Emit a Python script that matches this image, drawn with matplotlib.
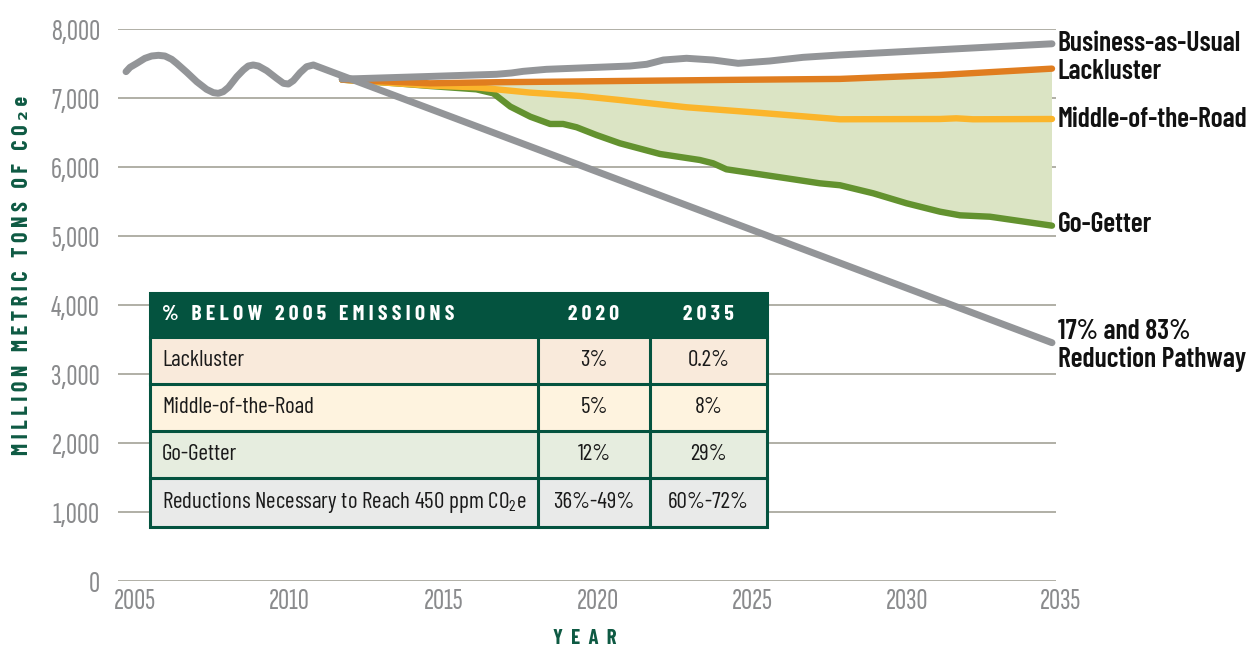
import matplotlib
matplotlib.use("Agg")
import matplotlib.pyplot as plt
from matplotlib import font_manager as fm
from matplotlib.patches import Rectangle
import matplotlib.transforms as mtransforms

# ---------------- data ----------------
hist_years = [2005.00, 2005.13, 2005.35, 2005.61, 2005.83, 2006.05, 2006.26,
              2006.48, 2006.64, 2006.97, 2007.29, 2007.61, 2007.83, 2007.99,
              2008.15, 2008.32, 2008.59, 2008.80, 2008.96, 2009.12, 2009.29,
              2009.56, 2009.88, 2010.10, 2010.26, 2010.42, 2010.64, 2010.85,
              2011.07]
hist_vals = [7386, 7449, 7507, 7579, 7613, 7623, 7613, 7565, 7507, 7376, 7241,
             7130, 7082, 7072, 7096, 7159, 7313, 7410, 7468, 7483, 7468, 7400,
             7289, 7217, 7207, 7256, 7371, 7458, 7483]

path_years = [2011.07, 2035]
path_vals = [7483, 3458]

bau_years = [2012, 2012.47, 2014.85, 2017.0, 2017.49, 2017.87, 2018.62, 2021.33,
             2021.87, 2022.41, 2023.16, 2024.02, 2024.83, 2025.86, 2026.94,
             2028.13, 2035]
bau_vals = [7280, 7284, 7317, 7348, 7367, 7391, 7420, 7468, 7493, 7555, 7580,
            7555, 7507, 7541, 7594, 7628, 7790]

lack_years = [2012, 2014.85, 2017.0, 2019.16, 2021.0, 2024.57, 2028.13, 2031.37, 2035]
lack_vals = [7270, 7217, 7233, 7242, 7251, 7267, 7281, 7338, 7430]

mid_years = [2012, 2014.85, 2016.35, 2017.0, 2018.08, 2019.7, 2021.0, 2023.16,
             2025.32, 2028.13, 2031.37, 2031.9, 2032.44, 2035]
mid_vals = [7270, 7184, 7159, 7130, 7083, 7034, 6975, 6870, 6797, 6696, 6700,
            6710, 6696, 6700]

go_years = [2012, 2013.77, 2014.85, 2016.35, 2016.9, 2017.45, 2018.1, 2018.74,
            2019.16, 2019.6, 2020.24, 2021.0, 2022.3, 2023.59, 2024.02, 2024.45,
            2025.32, 2026.4, 2027.48, 2028.13, 2029.21, 2030.29, 2031.37,
            2032.02, 2032.99, 2035]
go_vals = [7270, 7217, 7178, 7130, 7072, 6880, 6733, 6628, 6628, 6580, 6468,
           6348, 6193, 6106, 6058, 5971, 5913, 5841, 5768, 5740, 5623, 5478,
           5357, 5304, 5284, 5154]

x_ticks = [2005, 2010, 2015, 2020, 2025, 2030, 2035]
y_ticks = [0, 1000, 2000, 3000, 4000, 5000, 6000, 7000, 8000]
y_tick_labels = ["0", "1,000", "2,000", "3,000", "4,000", "5,000", "6,000",
                 "7,000", "8,000"]

table_header = ["% BELOW 2005 EMISSIONS", "2020", "2035"]
table_rows = ["Lackluster", "Middle-of-the-Road", "Go-Getter",
              "Reductions Necessary to Reach 450 ppm CO$_\\mathrm{2}$e"]
table_2020 = ["3%", "5%", "12%", "36%-49%"]
table_2035 = ["0.2%", "8%", "29%", "60%-72%"]

# ---------------- fonts ----------------
names = {f.name for f in fm.fontManager.ttflist}
FONT = "Barlow Condensed" if "Barlow Condensed" in names else "DejaVu Sans"
TICKFONT = ("Sofia Sans Extra Condensed" if "Sofia Sans Extra Condensed" in names
            else FONT)
plt.rcParams["font.family"] = [FONT, "DejaVu Sans"]
plt.rcParams["mathtext.fontset"] = "custom"
plt.rcParams["mathtext.rm"] = FONT
plt.rcParams["mathtext.it"] = FONT
plt.rcParams["mathtext.bf"] = FONT + ":bold"

GRAY = "#939598"
ORANGE = "#E07D1F"
YELLOW = "#FBB52B"
GREEN = "#63922F"
FILL = "#DBE4C4"
DKGREEN = "#04533F"
TICKGRAY = "#8A8B8D"
GRID = "#AAA99F"

fig = plt.figure(figsize=(12.57, 6.48), dpi=100)
fig.patch.set_facecolor("white")

ax = fig.add_axes([118 / 1257, (648 - 581.3) / 648, 938 / 1257, 552 / 648])
ax.set_xlim(2004.74, 2035.13)
ax.set_ylim(0, 8000)
for s in ax.spines.values():
    s.set_visible(False)
ax.set_yticks(y_ticks)
ax.set_yticklabels(y_tick_labels)
ax.set_xticks(x_ticks)
ax.set_xticklabels([str(x) for x in x_ticks])
ax.tick_params(axis="both", length=0, labelsize=22, labelcolor=TICKGRAY)
for lab in ax.get_xticklabels() + ax.get_yticklabels():
    lab.set_fontweight("light")
    lab.set_family([TICKFONT, "DejaVu Sans"])
ax.tick_params(axis="y", pad=13)
ax.tick_params(axis="x", pad=5)
off = mtransforms.ScaledTranslation(9 / 100, 0, fig.dpi_scale_trans)
for lab in ax.get_xticklabels():
    lab.set_transform(lab.get_transform() + off)
ax.grid(axis="y", color=GRID, lw=1.3)
ax.set_axisbelow(True)

# fill between lackluster and go-getter
ax.fill(lack_years + go_years[::-1], lack_vals + go_vals[::-1],
        color=FILL, lw=0, zorder=1)

kw = dict(solid_capstyle="round", solid_joinstyle="round", clip_on=False)
ax.plot(go_years, go_vals, color=GREEN, lw=4.6, zorder=3, **kw)
ax.plot(mid_years, mid_vals, color=YELLOW, lw=4.6, zorder=4, **kw)
ax.plot(lack_years, lack_vals, color=ORANGE, lw=4.6, zorder=5, **kw)
ax.plot(bau_years, bau_vals, color=GRAY, lw=5, zorder=6, **kw)
ax.plot(hist_years + path_years[1:], hist_vals + path_vals[1:], color=GRAY,
        lw=5, zorder=7, **kw)

lab_kw = dict(textcoords="offset points", ha="left", va="center",
              fontsize=20, fontweight="semibold", color="#111111",
              annotation_clip=False)
ax.annotate("Business-as-Usual", (bau_years[-1], bau_vals[-1]), xytext=(4, 0), **lab_kw)
ax.annotate("Lackluster", (lack_years[-1], lack_vals[-1]), xytext=(4, -2), **lab_kw)
ax.annotate("Middle-of-the-Road", (mid_years[-1], mid_vals[-1]), xytext=(4, -0.5), **lab_kw)
ax.annotate("Go-Getter", (go_years[-1], go_vals[-1]), xytext=(4, 1), **lab_kw)
ax.annotate("17% and 83%\nReduction Pathway", (path_years[-1], path_vals[-1]),
            xytext=(4, -2), linespacing=1.15, **lab_kw)

# ---------------- overlay (table & axis titles) ----------------
ov = fig.add_axes([0, 0, 1, 1], zorder=10)
ov.set_xlim(0, 1257)
ov.set_ylim(648, 0)
ov.axis("off")


def spaced(s, sp="\u2009"):
    return sp.join(list(s))


ov.text(22, 275, spaced("MILLION METRIC TONS OF CO\u2082e"),
        rotation=90, ha="center", va="center", fontsize=16,
        fontweight="bold", color="#0E5A43")
ov.text(585, 638, spaced("YEAR", "\u2009\u2009"), ha="center", va="center",
        fontsize=15, fontweight="bold", color="#0E5A43")

col_edges = [150, 538, 650, 767]
row_edges = [293, 337, 384, 431, 478, 527]
row_colors = ["#F9EADB", "#FEF3DF", "#E6EDDF", "#E9EAE9"]

ov.add_patch(Rectangle((col_edges[0], row_edges[0]), col_edges[-1] - col_edges[0],
                       row_edges[1] - row_edges[0], facecolor=DKGREEN, lw=0))
for i, c in enumerate(row_colors):
    ov.add_patch(Rectangle((col_edges[0], row_edges[i + 1]),
                           col_edges[-1] - col_edges[0],
                           row_edges[i + 2] - row_edges[i + 1],
                           facecolor=c, lw=0))
LW = 2.2
for y in row_edges[1:-1]:
    ov.plot([col_edges[0], col_edges[-1]], [y, y], color=DKGREEN, lw=LW)
for x in col_edges[1:-1]:
    ov.plot([x, x], [row_edges[1], row_edges[-1]], color=DKGREEN, lw=LW)
ov.add_patch(Rectangle((col_edges[0], row_edges[0]), col_edges[-1] - col_edges[0],
                       row_edges[-1] - row_edges[0], facecolor="none",
                       edgecolor=DKGREEN, lw=LW))

hy = (row_edges[0] + row_edges[1]) / 2
ov.text(162, hy, spaced(table_header[0]), ha="left", va="center", fontsize=15.5,
        fontweight="bold", color="white")
for j in (1, 2):
    ov.text((col_edges[j] + col_edges[j + 1]) / 2, hy, spaced(table_header[j]),
            ha="center", va="center", fontsize=15.5, fontweight="bold", color="white")
for i in range(4):
    cy = (row_edges[i + 1] + row_edges[i + 2]) / 2
    ov.text(162, cy, table_rows[i], ha="left", va="center", fontsize=16.7, color="#1a1a1a")
    ov.text((col_edges[1] + col_edges[2]) / 2, cy, table_2020[i], ha="center",
            va="center", fontsize=16.7, color="#1a1a1a")
    ov.text((col_edges[2] + col_edges[3]) / 2, cy, table_2035[i], ha="center",
            va="center", fontsize=16.7, color="#1a1a1a")

fig.savefig("out.png", dpi=100, facecolor="white")
